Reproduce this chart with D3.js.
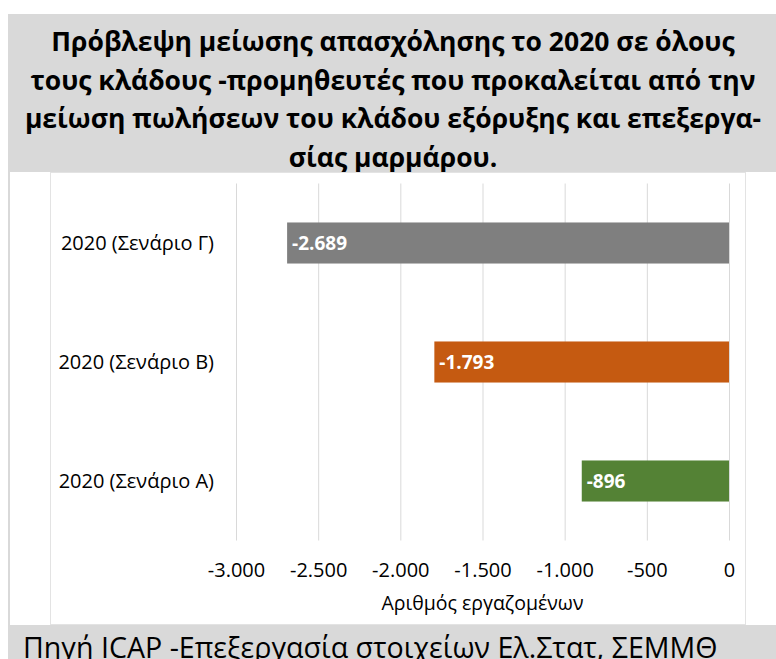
<!DOCTYPE html>
<html>
<head>
<meta charset="utf-8">
<script src="https://cdn.jsdelivr.net/npm/d3@7"></script>
<style>
  body { margin: 0; background: #fff; }
  text { font-family: "Open Sans", "Noto Sans", sans-serif; }
</style>
</head>
<body>
<div id="chart"></div>
<script>
var titleLines = [
  "Πρόβλεψη μείωσης απασχόλησης το 2020 σε όλους",
  "τους κλάδους -προμηθευτές που προκαλείται από την",
  "μείωση πωλήσεων του κλάδου εξόρυξης και επεξεργα-",
  "σίας μαρμάρου."
];
var categories = ["2020 (Σενάριο Γ)", "2020 (Σενάριο Β)", "2020 (Σενάριο Α)"];
var values = [-2689, -1793, -896];
var barColors = ["#7f7f7f", "#c55a11", "#548235"];
var xTicks = [-3000, -2500, -2000, -1500, -1000, -500, 0];
var xTitle = "Αριθμός εργαζομένων";
var source = "Πηγή ICAP -Επεξεργασία στοιχείων Ελ.Στατ, ΣΕΜΜΘ";

var svgWidth = 776, svgHeight = 659;

var svg = d3.select("#chart")
  .append("svg")
  .attr("width", svgWidth)
  .attr("height", svgHeight);

// title band
svg.append("rect")
  .attr("x", 8).attr("y", 14)
  .attr("width", svgWidth - 8).attr("height", 158)
  .attr("fill", "#d9d9d9");

svg.append("g").selectAll("text")
  .data(titleLines)
  .enter()
  .append("text")
  .attr("x", 393)
  .attr("y", (d, i) => 51 + i * 38.5)
  .attr("text-anchor", "middle")
  .attr("font-size", "26.5px")
  .attr("font-weight", "bold")
  .attr("fill", "#000")
  .text(d => d);

// chart box
svg.append("rect")
  .attr("x", 8).attr("y", 172)
  .attr("width", 2).attr("height", 453)
  .attr("fill", "#d9d9d9");
svg.append("rect")
  .attr("x", 50.5).attr("y", 172.5)
  .attr("width", 695).attr("height", 452)
  .attr("fill", "none")
  .attr("stroke", "#e3e3e3");

var margin = { left: 236, right: 47, top: 183.5, bottom: 118.5 };
var width = svgWidth - margin.left - margin.right;
var height = svgHeight - margin.top - margin.bottom;

var chartGroup = svg.append("g")
  .attr("transform", `translate(${margin.left}, ${margin.top})`);

var xScale = d3.scaleLinear()
  .domain([-3000, 0])
  .range([0, width]);

var yScale = d3.scaleBand()
  .domain(categories)
  .range([0, height])
  .paddingInner(0.655)
  .paddingOuter(0.3275);

var fmt = d3.formatLocale({ decimal: ",", thousands: ".", grouping: [3], currency: ["", "€"] }).format(",d");

// gridlines
chartGroup.append("g")
  .selectAll("line")
  .data(xTicks)
  .enter()
  .append("line")
  .attr("x1", d => xScale(d) + 0.5)
  .attr("x2", d => xScale(d) + 0.5)
  .attr("y1", 0)
  .attr("y2", height)
  .attr("stroke", "#d9d9d9")
  .attr("stroke-width", 1);

var bottomAxis = d3.axisBottom(xScale)
  .tickValues(xTicks)
  .tickFormat(d => fmt(d).replace("−", "-"))
  .tickSize(0)
  .tickPadding(22);

var xAxis = chartGroup.append("g")
  .attr("transform", `translate(0, ${height})`)
  .call(bottomAxis);
xAxis.select(".domain").remove();
xAxis.selectAll("text")
  .attr("font-size", "20px")
  .attr("fill", "#000")
  .style("font-family", "'Open Sans', sans-serif");

chartGroup.append("text")
  .attr("x", width / 2)
  .attr("y", height + 69)
  .attr("text-anchor", "middle")
  .attr("font-size", "19.5px")
  .attr("fill", "#000")
  .text(xTitle);

// category labels
chartGroup.append("g")
  .selectAll("text")
  .data(categories)
  .enter()
  .append("text")
  .attr("x", -22)
  .attr("y", d => yScale(d) + yScale.bandwidth() / 2)
  .attr("dy", "0.35em")
  .attr("text-anchor", "end")
  .attr("font-size", "20px")
  .attr("fill", "#000")
  .text(d => d);

// bars
chartGroup.append("g")
  .selectAll("rect")
  .data(values)
  .enter()
  .append("rect")
  .attr("x", d => xScale(d))
  .attr("y", (d, i) => yScale(categories[i]))
  .attr("width", d => xScale(0) - xScale(d))
  .attr("height", yScale.bandwidth())
  .attr("fill", (d, i) => barColors[i]);

chartGroup.append("g")
  .selectAll("text")
  .data(values)
  .enter()
  .append("text")
  .attr("x", d => xScale(d) + 5)
  .attr("y", (d, i) => yScale(categories[i]) + yScale.bandwidth() / 2)
  .attr("dy", "0.35em")
  .attr("font-size", "19px")
  .attr("font-weight", "bold")
  .attr("fill", "#fff")
  .text(d => fmt(d).replace("−", "-"));

// source band
svg.append("rect")
  .attr("x", 8).attr("y", 625)
  .attr("width", svgWidth - 8).attr("height", 40)
  .attr("fill", "#d9d9d9");
svg.append("text")
  .attr("x", 23)
  .attr("y", 658)
  .attr("font-size", "28.6px")
  .attr("fill", "#000")
  .text(source);
</script>
</body>
</html>
